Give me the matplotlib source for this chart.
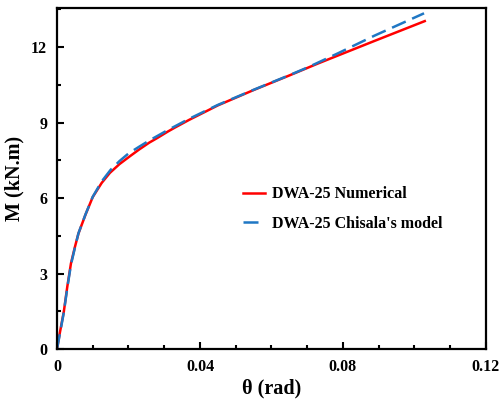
import numpy as np
import matplotlib.pyplot as plt
from matplotlib.ticker import MultipleLocator

theta_num = [0, 0.0008, 0.0019, 0.0029, 0.0039, 0.005, 0.006, 0.008, 0.01, 0.0125,
             0.0148, 0.0175, 0.0204, 0.023, 0.0258, 0.028, 0.031, 0.033, 0.0369,
             0.045, 0.055, 0.065, 0.0731, 0.0888, 0.1029]
m_num = [0, 0.65, 1.48, 2.5, 3.4, 4.05, 4.59, 5.35, 6.04, 6.6,
         7.0, 7.35, 7.66, 7.93, 8.2, 8.38, 8.64, 8.8, 9.10,
         9.68, 10.29, 10.87, 11.35, 12.24, 13.03]

theta_chi = [0, 0.0008, 0.0019, 0.0029, 0.0039, 0.005, 0.006, 0.008, 0.01, 0.0125,
             0.015, 0.0175, 0.02, 0.023, 0.026, 0.028, 0.031, 0.033, 0.037,
             0.045, 0.055, 0.065, 0.0703, 0.0786, 0.0888, 0.1027]
m_chi = [0, 0.6, 1.45, 2.45, 3.35, 4.02, 4.6, 5.36, 6.05, 6.66,
         7.12, 7.47, 7.77, 8.04, 8.3, 8.46, 8.7, 8.85, 9.15,
         9.7, 10.3, 10.88, 11.2, 11.75, 12.45, 13.34]

plt.rcParams['font.family'] = ['Liberation Serif', 'DejaVu Serif']
plt.rcParams['font.weight'] = 'bold'

fig = plt.figure(figsize=(5.01, 4.07), dpi=100)
ax = fig.add_axes([0.1138, 0.1425, 0.856, 0.8378])

ax.plot(theta_num, m_num, color='#ff0000', lw=1.8, label='DWA-25 Numerical')
ax.plot(theta_chi, m_chi, color='#1f77c4', lw=1.8, dashes=(6, 2.8),
        label="DWA-25 Chisala's model")

ax.set_xlim(0, 0.12)
ax.set_ylim(0, 13.55)
ax.xaxis.set_major_locator(MultipleLocator(0.04))
ax.xaxis.set_minor_locator(MultipleLocator(0.01))
ax.yaxis.set_major_locator(MultipleLocator(3))
ax.yaxis.set_minor_locator(MultipleLocator(1.5))
ax.set_xticks([0, 0.04, 0.08, 0.12], ['0', '0.04', '0.08', '0.12'])

ax.tick_params(which='both', direction='in', width=1.5, labelsize=11.5)
ax.tick_params(which='major', length=5, pad=7)
ax.tick_params(which='minor', length=3)
for s in ax.spines.values():
    s.set_linewidth(1.6)

ax.set_xlabel('θ (rad)', fontsize=14.5, fontweight='bold', labelpad=3)
ax.set_ylabel('M (kN.m)', fontsize=14.5, fontweight='bold', labelpad=5)

ax.legend(loc='center left', bbox_to_anchor=(0.40, 0.41), frameon=False,
          fontsize=11.5, handlelength=1.4, handletextpad=0.4, labelspacing=0.85)

fig.savefig('out.png', dpi=100)
